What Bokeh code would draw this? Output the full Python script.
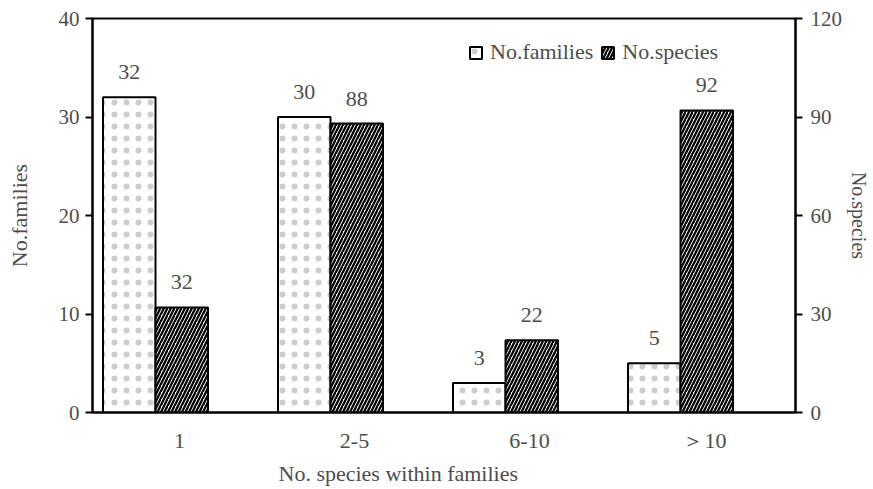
from bokeh.plotting import figure
from bokeh.models import Range1d, LinearAxis, FixedTicker, ColumnDataSource, Legend, LegendItem, Title
from bokeh.core.properties import value
from bokeh.embed import file_html
from bokeh.resources import INLINE

categories = ["1", "2-5", "6-10", "＞10"]
families = [32, 30, 3, 5]
species = [32, 88, 22, 92]
left_ticks = [0, 10, 20, 30, 40]
right_ticks = [0, 30, 60, 90, 120]

# layout constants
label_shift = 0.137   # category labels sit a little right of the bar pairs
off = 0.15
bw = 0.3

FONT = "Liberation Serif"
TXT = "#4d4d4d"

idx = list(range(len(categories)))
label_x = [i + label_shift for i in idx]
src = ColumnDataSource(dict(
    xf=[i - off for i in idx],
    xs=[i + off for i in idx],
    fam=families,
    spe=species,
    fam_t=[str(v) for v in families],
    spe_t=[str(v) for v in species],
))

p = figure(width=873, height=489, x_range=Range1d(-0.36, 3.657), y_range=Range1d(0, 40),
           output_backend="svg", toolbar_location=None,
           min_border_left=92, min_border_right=78, min_border_top=18, min_border_bottom=77)
p.extra_y_ranges = {"right": Range1d(0, 120)}
p.xgrid.visible = False
p.ygrid.visible = False
p.outline_line_color = "black"
p.outline_line_width = 2
p.outline_line_alpha = 1

r1 = p.vbar(x="xf", top="fam", width=bw, bottom=0, source=src,
            fill_color="white", line_color="black", line_width=2,
            hatch_pattern="dot", hatch_color="#cccccc", hatch_scale=12, hatch_weight=1)
r2 = p.vbar(x="xs", top="spe", width=bw, bottom=0, source=src, y_range_name="right",
            fill_color="white", line_color="black", line_width=2,
            hatch_pattern="right_diagonal_line", hatch_color="black", hatch_scale=7, hatch_weight=2.3)

p.text(x="xf", y="fam", text="fam_t", source=src, text_align="center", text_baseline="middle",
       y_offset=-25, text_font=value(FONT), text_font_size="22px", text_color=TXT)
p.text(x="xs", y="spe", text="spe_t", source=src, y_range_name="right", text_align="center",
       text_baseline="middle", y_offset=-25, text_font=value(FONT), text_font_size="22px", text_color=TXT)

# left axis
ya = p.yaxis[0]
ya.ticker = FixedTicker(ticks=left_ticks)
ya.axis_label = "No.families"
ya.axis_label_text_font = FONT
ya.axis_label_text_font_style = "normal"
ya.axis_label_text_font_size = "22px"
ya.axis_label_text_color = TXT
ya.axis_label_standoff = 24
ya.major_label_text_font = FONT
ya.major_label_text_font_size = "21px"
ya.major_label_text_color = TXT
ya.major_label_standoff = 6
ya.major_tick_out = 7
ya.major_tick_in = 0
ya.minor_tick_line_color = None
ya.axis_line_width = 2
ya.major_tick_line_width = 2

# right axis
ra = LinearAxis(y_range_name="right", ticker=FixedTicker(ticks=right_ticks))
ra.axis_label = "No.species"
ra.axis_label_text_font = FONT
ra.axis_label_text_font_style = "normal"
ra.axis_label_text_font_size = "20px"
ra.axis_label_text_color = TXT
ra.axis_label_standoff = 3
ra.major_label_text_font = FONT
ra.major_label_text_font_size = "21px"
ra.major_label_text_color = TXT
ra.major_label_standoff = 8
ra.major_tick_out = 7
ra.major_tick_in = 0
ra.minor_tick_line_color = None
ra.axis_line_width = 2
ra.major_tick_line_width = 2
p.add_layout(ra, "right")

# bottom axis
xa = p.xaxis[0]
xa.ticker = FixedTicker(ticks=label_x)
xa.major_label_overrides = {label_x[i]: categories[i] for i in idx}
xa.major_label_text_font = FONT
xa.major_label_text_font_size = "22px"
xa.major_label_text_color = TXT
xa.major_label_standoff = 9
xa.major_tick_line_color = None
xa.minor_tick_line_color = None
xa.axis_line_width = 2

xt = Title(text="No. species within families", align="left", offset=186, standoff=6,
           text_font=FONT, text_font_style="normal", text_font_size="22px", text_color=TXT)
p.add_layout(xt, "below")

legend = Legend(items=[LegendItem(label="No.families", renderers=[r1]),
                       LegendItem(label="No.species", renderers=[r2])],
                orientation="horizontal", location=(376, 347),
                glyph_width=15, glyph_height=15, label_height=15, label_standoff=7,
                spacing=7, padding=0, margin=0,
                label_text_font=FONT, label_text_font_size="22px", label_text_color=TXT,
                background_fill_alpha=0, border_line_alpha=0)
p.add_layout(legend, "center")

open("out.html", "w").write(file_html(p, INLINE))
